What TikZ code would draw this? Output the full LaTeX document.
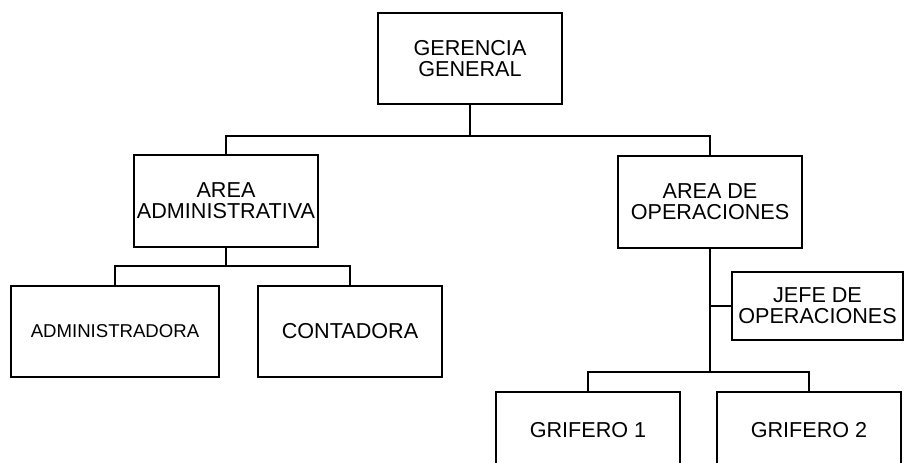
\documentclass[tikz,border=0pt]{standalone}
\usepackage{fontspec}
\setmainfont{Liberation Sans}
\begin{document}
\begin{tikzpicture}[x=1pt,y=1pt,
  box/.style={draw=black,line width=2.4pt,rectangle,align=center,inner sep=0pt,
    font=\fontsize{21.6}{21}\selectfont},
  conn/.style={draw=black,line width=2.4pt}]
\useasboundingbox[fill=white] (0,0) rectangle (905,-463);
\node[box,minimum width=184,minimum height=91] (GG) at (470,-58.5) {GERENCIA\\GENERAL};
\node[box,minimum width=184,minimum height=92] (AA) at (226,-201) {AREA\\ADMINISTRATIVA};
\node[box,minimum width=184,minimum height=92] (AO) at (710,-202) {AREA DE\\OPERACIONES};
\node[box,minimum width=208,minimum height=91,font=\fontsize{18.6}{18}\selectfont] (ADM) at (115,-331.5) {ADMINISTRADORA};
\node[box,minimum width=184,minimum height=91] (CON) at (350,-331.5) {CONTADORA};
\node[box,minimum width=171,minimum height=68] (JEFE) at (817.5,-306) {JEFE DE\\OPERACIONES};
\node[box,minimum width=184,minimum height=76] (G1) at (588,-430) {GRIFERO 1};
\node[box,minimum width=184,minimum height=76] (G2) at (809,-430) {GRIFERO 2};
\coordinate (b1) at (470,-136);
\coordinate (b2) at (226,-266);
\coordinate (b3) at (710,-372);
\coordinate (j) at (710,-306);
\draw[conn] (GG.south) -- (b1);
\draw[conn] (AA.north) |- (b1) -| (AO.north);
\draw[conn] (AA.south) -- (b2);
\draw[conn] (ADM.north) |- (b2) -| (CON.north);
\draw[conn] (AO.south) -- (b3);
\draw[conn] (j) -- (JEFE.west);
\draw[conn] (G1.north) |- (b3) -| (G2.north);
\end{tikzpicture}
\end{document}
